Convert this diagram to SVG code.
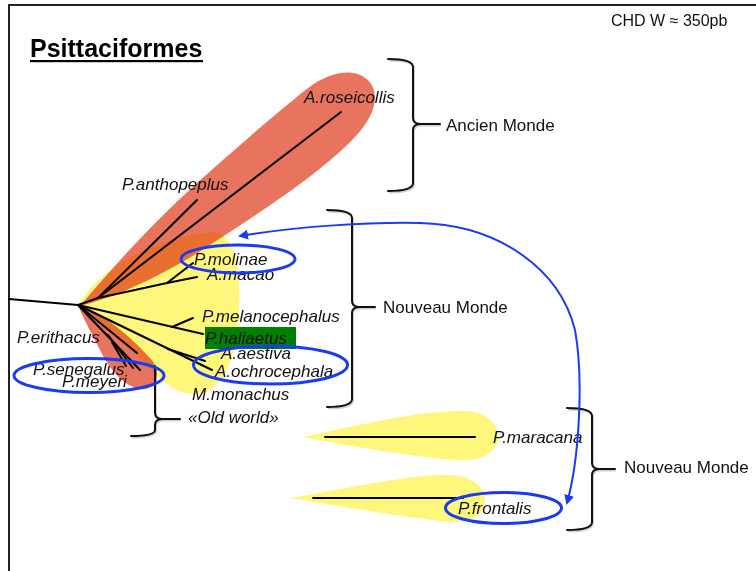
<svg xmlns="http://www.w3.org/2000/svg" width="756" height="571" viewBox="0 0 756 571">
  <style>
    .lbl { font-family: "Liberation Sans", Arial, sans-serif; font-size: 17px; font-style: italic; fill: #111; }
    .grp { font-family: "Liberation Sans", Arial, sans-serif; font-size: 17px; fill: #111; }
    .br { fill: none; stroke: #111; stroke-width: 2; stroke-linecap: round; stroke-linejoin: round; }
    .br2 { fill: none; stroke: #000; stroke-opacity: 0.18; stroke-width: 2; transform: translate(1px, 1.5px); }
    .tree line { stroke: #000; stroke-width: 2; stroke-linecap: round; }
    .ring { fill: none; stroke: #1b3bf0; stroke-width: 3; }
    .red { fill: #e8735f; mix-blend-mode: multiply; }
    .yel { fill: #fff77c; mix-blend-mode: multiply; }
  </style>
  <defs>
    <marker id="tri" viewBox="0 0 10 10" refX="8" refY="5" markerWidth="10" markerHeight="10" markerUnits="userSpaceOnUse" orient="auto-start-reverse">
      <path d="M0,0 L10,5 L0,10 Z" fill="#1b3bf0"/>
    </marker>
  </defs>

  <rect width="756" height="571" fill="#fff"/>

  <!-- page frame: top and left edges only -->
  <g id="frame">
    <path d="M9,571 L9,5 L756,5" fill="none" stroke="#222" stroke-width="2"/>
  </g>

  <!-- title and size note -->
  <g id="title">
    <text x="30" y="57" font-family="'Liberation Sans', Arial, sans-serif" font-size="25" font-weight="bold" fill="#000">Psittaciformes</text>
    <rect x="30" y="60" width="173" height="2.2" fill="#000"/>
  </g>
  <g id="note">
    <text x="611" y="26" font-family="'Liberation Sans', Arial, sans-serif" font-size="16" fill="#111">CHD W ≈ 350pb</text>
  </g>

  <!-- clade shading (overlaps turn orange through multiply) -->
  <g id="clades" style="isolation:isolate">
    <path id="clade-nm-main" class="yel" d="M80,302 C100,270 150,238 212,232 C236,232 241,272 239,312 C237,352 226,392 196,394 C178,395 165,384 152,370 C130,348 104,326 80,302 Z"/>
    <path id="clade-am" class="red" d="M80,306 C110,270 150,226 198,182 C238,146 278,112 308,88 C328,73 350,68 364,77 C382,89 377,114 355,137 C322,172 264,210 204,249 C162,275 120,296 80,306 Z"/>
    <path id="clade-ow" class="red" d="M78,305 C100,310 132,338 150,358 C163,372 157,392 140,389 C124,386 110,370 101,352 C93,336 84,320 78,305 Z"/>
    <path id="clade-maracana" class="yel" d="M303,437 C360,425 420,410 465,411 C490,412 500,428 498,440 C494,455 480,461 460,460 C420,458 360,448 303,437 Z"/>
    <path id="clade-frontalis" class="yel" d="M290,498 C350,488 410,474 450,475 C475,476 487,490 485,502 C482,517 470,523 450,522 C410,518 350,508 290,498 Z"/>
  </g>

  <!-- tree branches -->
  <g id="connectors" class="tree">
    <line x1="9" y1="299" x2="78" y2="305"/>
    <line x1="78" y1="305" x2="98" y2="298"/>
    <line x1="98" y1="298" x2="197" y2="200"/>
    <line x1="98" y1="298" x2="341" y2="112"/>
    <line x1="98" y1="298" x2="167" y2="283"/>
    <line x1="167" y1="283" x2="193" y2="263"/>
    <line x1="167" y1="283" x2="197" y2="277"/>
    <line x1="78" y1="305" x2="203" y2="334"/>
    <line x1="172" y1="327" x2="193" y2="318"/>
    <line x1="78" y1="305" x2="212" y2="370"/>
    <line x1="168" y1="349" x2="205" y2="361"/>
    <line x1="78" y1="305" x2="137" y2="353"/>
    <line x1="78" y1="305" x2="140" y2="370"/>
    <line x1="108" y1="335" x2="133" y2="368"/>
    <line x1="112" y1="342" x2="126" y2="366"/>
    <line x1="325" y1="437" x2="475" y2="437"/>
    <line x1="313" y1="498" x2="463" y2="498"/>
  </g>

  <!-- group braces -->
  <g id="braces">
    <path class="br2" d="M388,59 Q413,59 413,67 L413,118 Q413,124 421,124 Q413,124 413,130 L413,183 Q413,191 388,191 M421,124 L440,124"/>
    <path class="br" d="M388,59 Q413,59 413,67 L413,118 Q413,124 421,124 Q413,124 413,130 L413,183 Q413,191 388,191 M421,124 L440,124"/>
    <path class="br2" d="M327,210 Q352,210 352,218 L352,301 Q352,307 360,307 Q352,307 352,313 L352,399 Q352,407 327,407 M360,307 L375,307"/>
    <path class="br" d="M327,210 Q352,210 352,218 L352,301 Q352,307 360,307 Q352,307 352,313 L352,399 Q352,407 327,407 M360,307 L375,307"/>
    <path class="br2" d="M567,408 Q592,408 592,416 L592,463 Q592,469 600,469 Q592,469 592,475 L592,522 Q592,530 567,530 M600,469 L615,469"/>
    <path class="br" d="M567,408 Q592,408 592,416 L592,463 Q592,469 600,469 Q592,469 592,475 L592,522 Q592,530 567,530 M600,469 L615,469"/>
    <path class="br2" d="M155,366 L155,413 Q155,419 163,419 Q155,419 155,425 L155,430 Q155,436 131,436 M163,419 L180,419"/>
    <path class="br" d="M155,366 L155,413 Q155,419 163,419 Q155,419 155,425 L155,430 Q155,436 131,436 M163,419 L180,419"/>
  </g>

  <!-- group captions -->
  <g id="g-ancien"><text class="grp" x="446" y="131">Ancien Monde</text></g>
  <g id="g-nouveau-1"><text class="grp" x="383" y="313">Nouveau Monde</text></g>
  <g id="g-nouveau-2"><text class="grp" x="624" y="473">Nouveau Monde</text></g>
  <g id="g-oldworld"><text class="lbl" x="188" y="423">«Old world»</text></g>

  <!-- taxa -->
  <g id="t-roseicollis"><text class="lbl" x="304" y="103">A.roseicollis</text></g>
  <g id="t-anthopeplus"><text class="lbl" x="122" y="190">P.anthopeplus</text></g>
  <g id="t-molinae"><text class="lbl" x="194" y="265">P.molinae</text></g>
  <g id="t-macao"><text class="lbl" x="207" y="280">A.macao</text></g>
  <g id="t-melanocephalus"><text class="lbl" x="202" y="322">P.melanocephalus</text></g>
  <g id="t-haliaetus">
    <rect x="205" y="327" width="91" height="22" fill="#008000"/>
    <text class="lbl" x="205" y="344">P.haliaetus</text>
  </g>
  <g id="t-aestiva"><text class="lbl" x="221" y="359">A.aestiva</text></g>
  <g id="t-ochrocephala"><text class="lbl" x="215" y="377">A.ochrocephala</text></g>
  <g id="t-monachus"><text class="lbl" x="192" y="400">M.monachus</text></g>
  <g id="t-erithacus"><text class="lbl" x="17" y="343">P.erithacus</text></g>
  <g id="t-senegalus"><text class="lbl" x="33" y="375">P.senegalus</text></g>
  <g id="t-meyeri"><text class="lbl" x="62" y="387">P.meyeri</text></g>
  <g id="t-maracana"><text class="lbl" x="493" y="443">P.maracana</text></g>
  <g id="t-frontalis"><text class="lbl" x="458" y="514">P.frontalis</text></g>

  <!-- highlighted taxa -->
  <g id="rings">
    <ellipse class="ring" cx="238" cy="259" rx="57" ry="14"/>
    <ellipse class="ring" cx="270.5" cy="365" rx="77" ry="19"/>
    <ellipse class="ring" cx="89" cy="375.5" rx="75" ry="17"/>
    <ellipse class="ring" cx="503.5" cy="508" rx="58" ry="15.5"/>
  </g>

  <!-- link between P.molinae and P.frontalis -->
  <g id="link">
    <path d="M240,236 C300,226 370,222 420,223 C500,225 560,270 575,330 C584,380 579,460 567,503" fill="none" stroke="#1b3bf0" stroke-width="2" marker-start="url(#tri)" marker-end="url(#tri)"/>
  </g>
</svg>
